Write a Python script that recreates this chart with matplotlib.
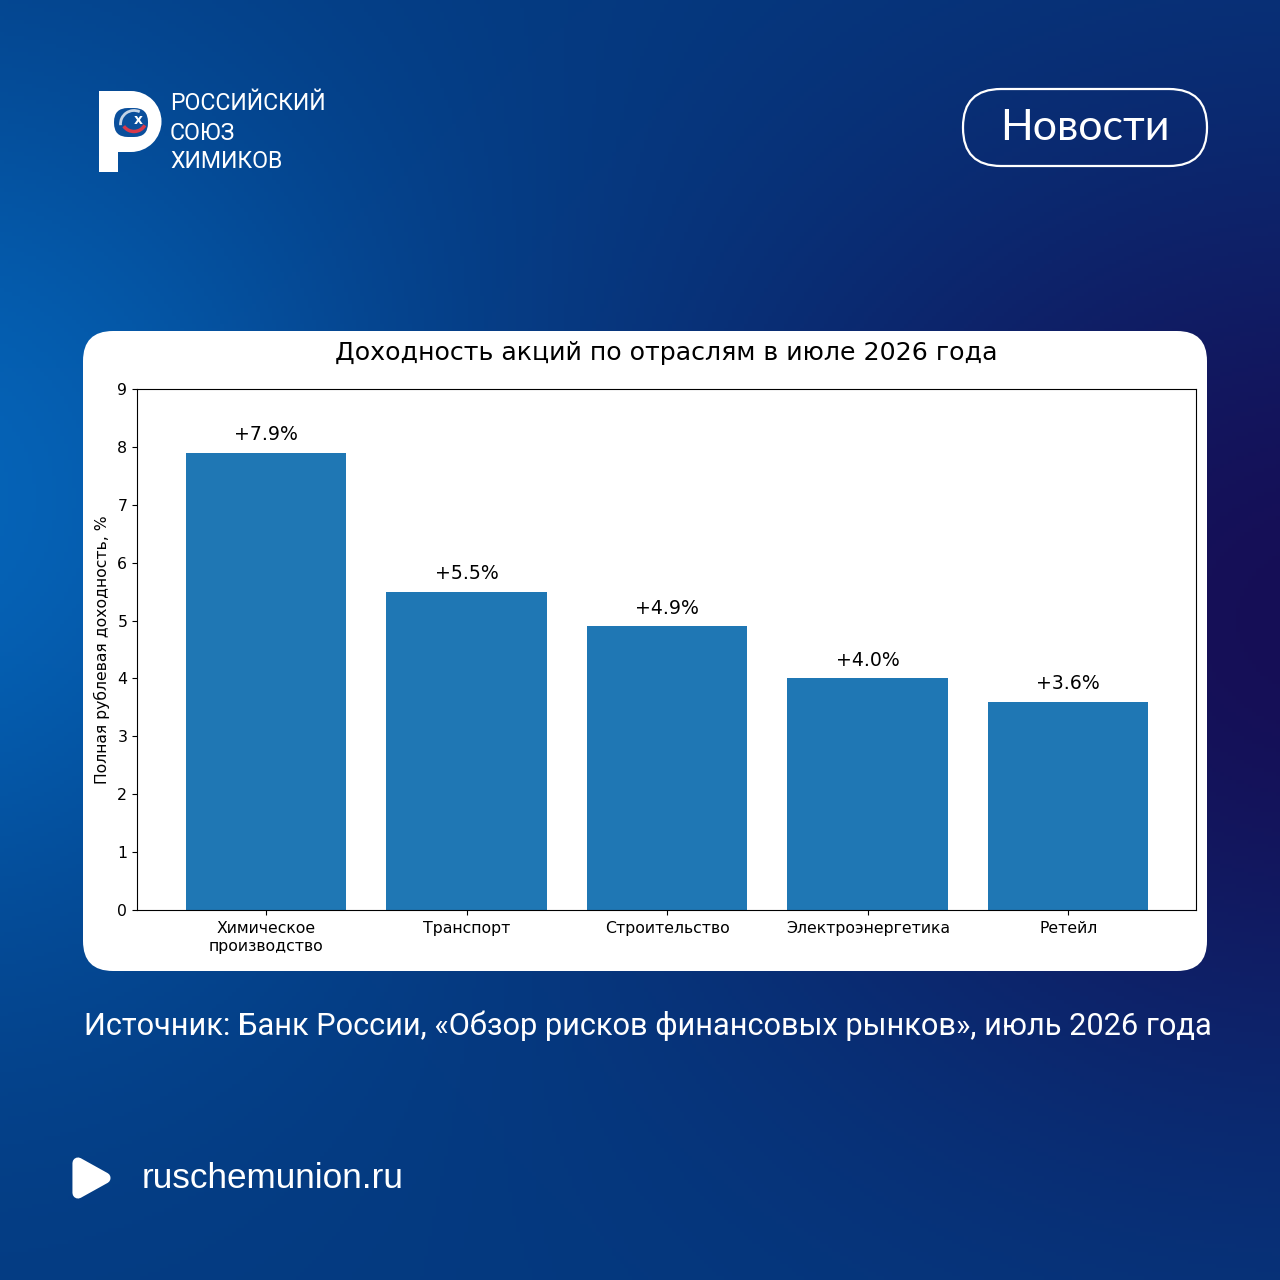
import numpy as np
import matplotlib
matplotlib.use('Agg')
from matplotlib import pyplot as plt
from matplotlib.patches import FancyBboxPatch, Circle, Arc, Polygon, Rectangle

sectors = ['Химическое\nпроизводство', 'Транспорт', 'Строительство', 'Электроэнергетика', 'Ретейл']
returns = [7.9, 5.5, 4.9, 4.0, 3.6]
labels = ['+7.9%', '+5.5%', '+4.9%', '+4.0%', '+3.6%']
yticks = [0, 1, 2, 3, 4, 5, 6, 7, 8, 9]

title = 'Доходность акций по отраслям в июле 2026 года'
ylabel = 'Полная рублевая доходность, %'
source = 'Источник: Банк России, «Обзор рисков финансовых рынков», июль 2026 года'

narrow = ['Liberation Sans Narrow', 'Roboto']

fig = plt.figure(figsize=(12.8, 12.8), dpi=100)

# background, everything here is in pixels
bg = fig.add_axes([0, 0, 1, 1])
bg.set_xlim(0, 1280)
bg.set_ylim(1280, 0)
bg.axis('off')

yy, xx = np.mgrid[0:1280:320j, 0:1280:320j]
base = np.array([4, 58, 128], dtype=float)
img = np.ones((320, 320, 3)) * base / 255
left = np.exp(-((xx + 80) ** 2 / 480 ** 2 + (yy - 500) ** 2 / 470 ** 2))[..., None]
right = np.exp(-((xx - 1330) ** 2 / 600 ** 2 + (yy - 620) ** 2 / 520 ** 2))[..., None]
img = img * (1 - left) + np.array([5, 100, 184]) / 255 * left
img = img * (1 - right) + np.array([22, 14, 86]) / 255 * right
bg.imshow(img, extent=[0, 1280, 1280, 0], aspect='auto', zorder=0)

card = FancyBboxPatch((83 + 30, 331 + 30), 1124 - 60, 640 - 60, boxstyle='round,pad=30,rounding_size=30',
                      fc='white', ec='none', zorder=1)
bg.add_patch(card)

# logo
hole = '#0a4f9c'
bg.add_patch(Rectangle((99, 91), 19, 81, fc='white', ec='none', zorder=2))
bg.add_patch(Rectangle((99, 91), 32, 61, fc='white', ec='none', zorder=2))
bg.add_patch(Circle((131, 121.5), 30.5, fc='white', ec='none', zorder=2))
bg.add_patch(FancyBboxPatch((114 + 10, 108 + 10), 34 - 20, 29 - 20, boxstyle='round,pad=10,rounding_size=14',
                            fc=hole, ec='none', zorder=3))
bg.add_patch(Arc((134, 124), 27, 27, theta1=175, theta2=295, ec='#c3d3e6', lw=2, zorder=4))
bg.add_patch(Arc((134, 119), 25, 25, theta1=30, theta2=145, ec='#d8394a', lw=2.5, zorder=4))
bg.text(138, 120, 'х', color='white', fontsize=10, fontweight='bold', ha='center', va='center', zorder=5)

for txt, y in zip(['РОССИЙСКИЙ', 'СОЮЗ', 'ХИМИКОВ'], [103, 133, 162]):
    bg.text(170, y, txt, color='white', fontsize=16.7, family=narrow, ha='left', va='center', zorder=2)

# news button
bg.add_patch(FancyBboxPatch((963 + 38, 89 + 38), 244 - 76, 77 - 76, boxstyle='round,pad=38,rounding_size=38',
                            fc='none', ec='white', lw=1.6, zorder=2))
bg.text(1085, 128, 'Новости', color='white', fontsize=31, family='Lato', ha='center', va='center', zorder=2)

bg.text(648, 1026, source, color='white', fontsize=22.15, family=narrow, ha='center', va='center', zorder=2)

# footer
bg.add_patch(Polygon([(78, 1163), (105, 1178), (78, 1193)], closed=True, fc='white', ec='white',
                     lw=8, joinstyle='round', zorder=2))
bg.text(142, 1179, 'ruschemunion.ru', color='white', fontsize=25.3, family='Liberation Sans',
        ha='left', va='center', zorder=2)

# the chart
ax = fig.add_axes([137 / 1280, 1 - 910 / 1280, 1059 / 1280, 521 / 1280])
ax.patch.set_alpha(0)
x = np.arange(len(sectors))
ax.bar(x, returns, color='#1f77b4', width=0.8)
for i in range(len(returns)):
    ax.text(x[i], returns[i] + 0.15, labels[i], ha='center', va='bottom', fontsize=13.6)
ax.set_xticks(x)
ax.set_xticklabels(sectors, fontsize=11.3)
ax.set_xlim(-0.643, 4.637)
ax.set_yticks(yticks)
ax.tick_params(axis='y', labelsize=11.3)
ax.tick_params(axis='x', pad=4.5)
ax.set_ylim(0, 9)
ax.set_ylabel(ylabel, fontsize=11.25, labelpad=5.5)
ax.set_title(title, fontsize=18.2, pad=21)

fig.savefig('out.png', dpi=100)
